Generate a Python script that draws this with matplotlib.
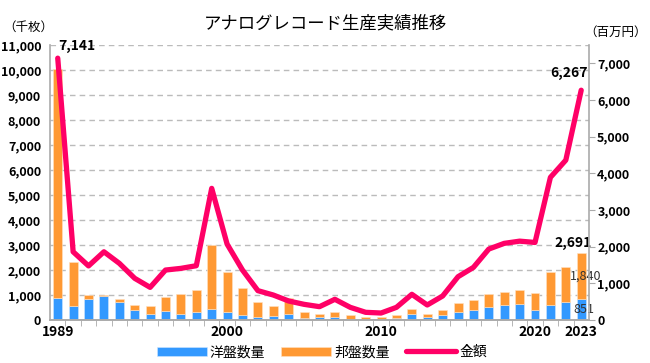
import matplotlib
matplotlib.use("Agg")
import matplotlib.pyplot as plt
import numpy as np

plt.rcParams['font.family'] = ['Noto Sans CJK JP', 'DejaVu Sans']

# データ (千枚 / 百万円)
years = list(range(1989, 2024))
foreign = [890, 573, 827, 960, 707, 387, 227, 360, 227, 333, 440, 320, 200, 120, 173,
           253, 80, 107, 120, 53, 40, 40, 93, 253, 120, 200, 320, 413, 520, 587,
           640, 413, 613, 733, 851]
domestic = [9160, 1760, 160, 40, 146, 226, 320, 560, 800, 854, 2560, 1600, 1093, 587, 387,
            640, 227, 133, 213, 147, 67, 67, 107, 187, 133, 200, 347, 387, 533, 533,
            573, 667, 1294, 1374, 1840]
amount = [7141, 1860, 1475, 1860, 1545, 1136, 890, 1362, 1408, 1480, 3590, 2070, 1362, 800, 681,
          518, 427, 363, 564, 345, 209, 190, 345, 700, 409, 654, 1180, 1435, 1935, 2090,
          2150, 2115, 3890, 4360, 6267]
shown_years = [1989, 2000, 2010, 2020, 2023]

blue = '#3399ff'
orange = '#ff9933'
pink = '#ff0066'
x = np.arange(len(years))

fig = plt.figure(figsize=(6.5, 3.63), dpi=100)
ax = fig.add_axes([0.077, 0.1185, 0.829, 0.7575])
ax2 = ax.twinx()

b1 = ax.bar(x, foreign, width=0.58, color=blue, edgecolor='#cfe6ff', linewidth=0.4, zorder=2)
b2 = ax.bar(x, domestic, width=0.58, bottom=foreign, color=orange, edgecolor='#ffe1c2',
            linewidth=0.4, zorder=2)
ln, = ax2.plot(x, amount, color=pink, lw=3.8, solid_joinstyle='round', solid_capstyle='round')

ax.set_xlim(-0.5, len(years) - 0.5)
ax.set_ylim(0, 11000)
ax2.set_ylim(0, 7500)

ax.set_yticks(np.arange(0, 11001, 1000))
ax.set_yticklabels([f'{v:,}' for v in range(0, 11001, 1000)], fontsize=9, fontweight='bold')
ax2.set_yticks(np.arange(0, 7001, 1000))
ax2.set_yticklabels([f'{v:,}' for v in range(0, 7001, 1000)], fontsize=9, fontweight='bold')

ax.set_xticks([years.index(y) for y in shown_years])
ax.set_xticklabels([str(y) for y in shown_years], fontsize=10, fontweight='bold')
ax.set_xticks(x[:-1] + 0.5, minor=True)
ax.tick_params(axis='x', which='major', length=0, pad=3.5)
ax.tick_params(axis='x', which='minor', length=4, color='#aaaaaa')
ax.tick_params(axis='y', length=0, pad=6.5)
ax2.tick_params(axis='y', length=4, color='#aaaaaa', pad=2)

ax.grid(axis='y', color='#bbbbbb', linestyle=(0, (4, 3)), linewidth=1, zorder=0)
ax.set_axisbelow(True)
for a in (ax, ax2):
    a.spines['top'].set_visible(False)
    for s in ('left', 'right', 'bottom'):
        a.spines[s].set_color('#aaaaaa')
        a.spines[s].set_linewidth(1.2)
ax.spines['right'].set_visible(False)
ax2.spines['left'].set_visible(False)

# 注記
ax2.annotate(f'{amount[0]:,}', (x[0], amount[0]), xytext=(14, 4), textcoords='offset points',
             ha='center', va='bottom', fontsize=10, fontweight='bold')
ax2.annotate(f'{amount[-1]:,}', (x[-1], amount[-1]), xytext=(-9, 7), textcoords='offset points',
             ha='center', va='bottom', fontsize=10, fontweight='bold')
tot = foreign[-1] + domestic[-1]
ax.annotate(f'{tot:,}', (x[-1], tot), xytext=(-6, 2), textcoords='offset points',
            ha='center', va='bottom', fontsize=10, fontweight='bold')
ax.annotate(f'{domestic[-1]:,}', (x[-1], foreign[-1] + domestic[-1] / 2), xytext=(3, 0),
            textcoords='offset points', ha='center', va='center', fontsize=9, color='#333333')
ax.annotate(f'{foreign[-1]:,}', (x[-1], foreign[-1] / 2), xytext=(2, 0),
            textcoords='offset points', ha='center', va='center', fontsize=9, color='#333333')

fig.text(0.5, 0.935, 'アナログレコード生産実績推移', ha='center', va='center', fontsize=12.5)
fig.text(0.005, 0.925, '（千枚）', ha='left', va='center', fontsize=9)
fig.text(0.995, 0.912, '（百万円）', ha='right', va='center', fontsize=9)

fig.legend([b1, b2, ln], ['洋盤数量', '邦盤数量', '金額'], loc='center', bbox_to_anchor=(0.495, 0.03),
           ncol=3, frameon=False, fontsize=10, handlelength=3.6, handleheight=0.6,
           columnspacing=1.2, handletextpad=0.2)

fig.savefig('out.png', dpi=100)
